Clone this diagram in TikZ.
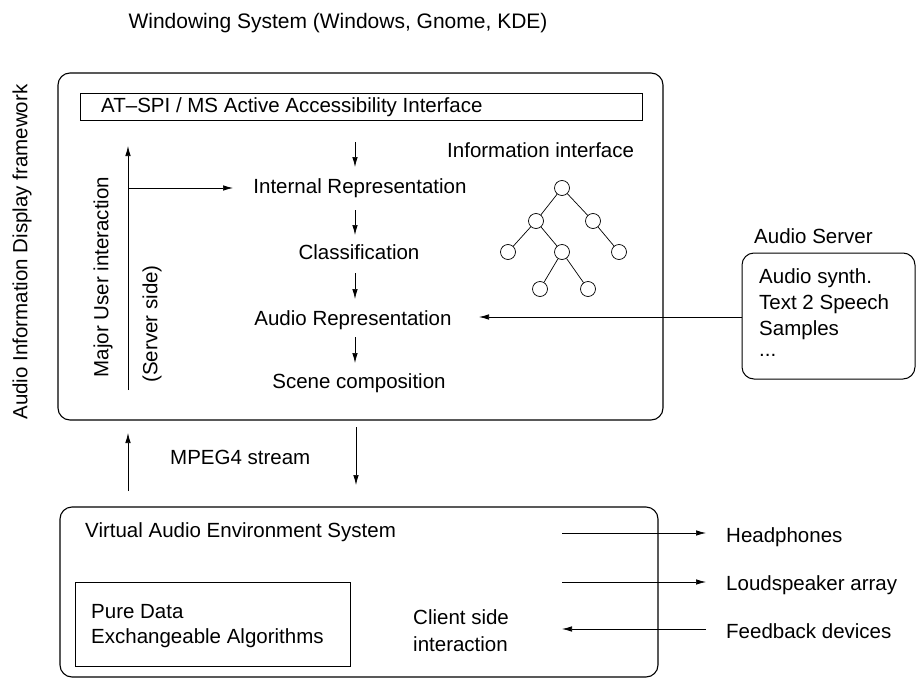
\documentclass[tikz,border=0pt]{standalone}
\usepackage{fontspec}
\setmainfont{Liberation Sans}
\usetikzlibrary{arrows.meta}
\begin{document}
\begin{tikzpicture}[x=1pt,y=-1pt,
  every node/.style={font=\fontsize{20.5}{24}\selectfont, inner sep=0pt},
  lbl/.style={anchor=west},
  frame/.style={draw, line width=1.1pt, rounded corners=12pt},
  plainbox/.style={draw, line width=0.8pt},
  arr/.style={-{Latex[length=10pt,width=5.5pt]}, line width=0.7pt},
  tn/.style={draw, circle, minimum size=15pt, line width=0.7pt},
  te/.style={line width=0.7pt}]
\useasboundingbox (0,0) rectangle (916,680);
% title
\node[font=\fontsize{21}{24}\selectfont] (title) at (338,23) {Windowing System (Windows, Gnome, KDE)};
% top frame
\draw[frame] (58,73) rectangle (663,420);
\node[rotate=90] (aidf) at (22,252) {Audio Information Display framework};
\node[plainbox, minimum width=562pt, minimum height=27pt, anchor=north west] (atspi) at (80,93) {};
\node[lbl] (atspitxt) at (101,107) {AT--SPI / MS Active Accessibility Interface};
\node[lbl] (info) at (447,150) {Information interface};
\node (ir) at (360,188) {Internal Representation};
\node (cls) at (359,252) {Classification};
\node (ar) at (353,320) {Audio Representation};
\node (sc) at (359,383) {Scene composition};
\coordinate (a1s) at (355,142); \coordinate (a1e) at (355,167);
\coordinate (a2s) at (355,210); \coordinate (a2e) at (355,235);
\coordinate (a3s) at (355,273); \coordinate (a3e) at (355,299);
\coordinate (a4s) at (355,337); \coordinate (a4e) at (355,363);
\draw[arr] (a1s) -- (a1e);
\draw[arr] (a2s) -- (a2e);
\draw[arr] (a3s) -- (a3e);
\draw[arr] (a4s) -- (a4e);
% major user interaction
\coordinate (mub) at (128,390);
\coordinate (mut) at (128,146);
\coordinate (muh) at (128,188);
\coordinate (mue) at (233,188);
\draw[arr] (mub) -- (mut);
\draw[arr] (muh) -- (mue);
\node[rotate=90] (mui) at (103,277) {Major User interaction};
\node[rotate=90] (ss) at (152,324) {(Server side)};
% tree
\node[tn] (t0) at (562,188) {};
\node[tn] (t1) at (536,221) {};
\node[tn] (t2) at (593,221) {};
\node[tn] (t3) at (508,252) {};
\node[tn] (t4) at (562,252) {};
\node[tn] (t5) at (619,252) {};
\node[tn] (t6) at (540,289) {};
\node[tn] (t7) at (588,289) {};
\draw[te] (t0) -- (t1); \draw[te] (t0) -- (t2);
\draw[te] (t1) -- (t3); \draw[te] (t1) -- (t4);
\draw[te] (t2) -- (t5);
\draw[te] (t4) -- (t6); \draw[te] (t4) -- (t7);
% audio server
\node[lbl] (asl) at (754,236) {Audio Server};
\draw[frame, line width=1pt] (742,253) rectangle (915,379);
\coordinate (asbox) at (742,317);
\node[lbl] (as1) at (759,278) {Audio synth.};
\node[lbl] (as2) at (759,304) {Text 2 Speech};
\node[lbl] (as3) at (759,330) {Samples};
\node[lbl] (as4) at (759,355) {...};
\coordinate (are) at (479,317);
\draw[arr] (asbox) -- (are);
% mpeg4
\coordinate (ups) at (128,491); \coordinate (upe) at (128,433);
\coordinate (dns) at (356,427); \coordinate (dne) at (356,485);
\draw[arr] (ups) -- (upe);
\draw[arr] (dns) -- (dne);
\node[lbl] (mpeg) at (170,457) {MPEG4 stream};
% bottom frame
\draw[frame] (60,507) rectangle (658,677);
\node[lbl] (vaes) at (85,532) {Virtual Audio Environment System};
\draw[plainbox] (75,582) rectangle (350,666);
\node[lbl] (pd) at (91,612) {Pure Data};
\node[lbl] (ea) at (91,638) {Exchangeable Algorithms};
\node[lbl] (cs1) at (413,617) {Client side};
\node[lbl] (cs2) at (413,644) {interaction};
\coordinate (h1) at (562,533); \coordinate (h2) at (706,533);
\coordinate (l1) at (562,582); \coordinate (l2) at (706,582);
\coordinate (f1) at (706,629); \coordinate (f2) at (562,629);
\draw[arr] (h1) -- (h2);
\draw[arr] (l1) -- (l2);
\draw[arr] (f1) -- (f2);
\node[lbl] (hp) at (726,537) {Headphones};
\node[lbl] (ls) at (726,585) {Loudspeaker array};
\node[lbl] (fd) at (726,631) {Feedback devices};
\end{tikzpicture}
\end{document}
